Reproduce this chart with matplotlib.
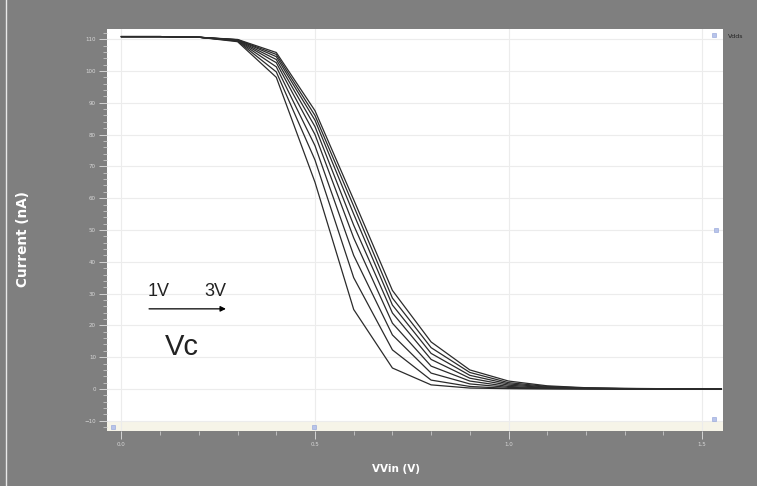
import matplotlib
matplotlib.use('Agg')
import matplotlib.pyplot as plt
import numpy as np
from matplotlib.patches import Rectangle
from matplotlib.lines import Line2D

plt.rcParams.update({'font.family': 'DejaVu Sans'})
plt.rcParams.update({'font.size': 10})

#%% input voltage sweep and output current for each control voltage Vc (1V ... 3V)

vin = [0.0, 0.1, 0.2, 0.3, 0.4, 0.5, 0.6, 0.7, 0.8, 0.9, 1.0, 1.1, 1.2, 1.3, 1.4, 1.5, 1.55]

i_vc1 = [110.8, 110.8, 110.6, 109.2, 98.0, 65.0, 25.0, 6.6, 1.3, 0.3, 0.1, 0.05, 0.0, 0.0, 0.0, 0.0, 0.0]
i_vc2 = [110.8, 110.8, 110.6, 109.4, 99.7, 72.0, 35.0, 12.3, 2.8, 0.8, 0.2, 0.1, 0.05, 0.0, 0.0, 0.0, 0.0]
i_vc3 = [110.8, 110.8, 110.6, 109.5, 101.3, 76.5, 42.0, 17.0, 5.0, 1.6, 0.5, 0.2, 0.1, 0.05, 0.0, 0.0, 0.0]
i_vc4 = [110.8, 110.8, 110.6, 109.6, 102.6, 80.0, 47.5, 20.7, 7.2, 2.5, 0.8, 0.3, 0.15, 0.05, 0.0, 0.0, 0.0]
i_vc5 = [110.8, 110.8, 110.6, 109.7, 103.6, 82.5, 51.5, 23.9, 9.3, 3.4, 1.2, 0.45, 0.2, 0.1, 0.05, 0.0, 0.0]
i_vc6 = [110.8, 110.8, 110.6, 109.8, 104.5, 84.5, 55.0, 26.4, 11.2, 4.3, 1.6, 0.6, 0.25, 0.1, 0.05, 0.0, 0.0]
i_vc7 = [110.8, 110.8, 110.6, 109.8, 105.2, 86.0, 57.5, 28.6, 13.0, 5.2, 2.0, 0.8, 0.3, 0.15, 0.05, 0.0, 0.0]
i_vc8 = [110.8, 110.8, 110.6, 109.9, 105.8, 87.5, 59.5, 31.0, 14.8, 6.0, 2.5, 1.0, 0.4, 0.2, 0.1, 0.05, 0.0]

curves = [i_vc1, i_vc2, i_vc3, i_vc4, i_vc5, i_vc6, i_vc7, i_vc8]

ytick_vals = [-10, 0, 10, 20, 30, 40, 50, 60, 70, 80, 90, 100, 110]
xtick_vals = [0.0, 0.5, 1.0, 1.5]
xtick_labels = ['0.0', '0.5', '1.0', '1.5']

#%% plot

bg = '#7f7f7f'
fig = plt.figure(figsize=(7.57, 4.86), dpi=100, facecolor=bg)
ax = fig.add_axes([0.1413, 0.1132, 0.8137, 0.8272])
ax.set_facecolor('white')

for c in curves:
    ax.plot(vin, c, color='#2b2b2b', lw=0.9)

ax.set_xlim(-0.0375, 1.554)
ax.set_ylim(-13.2, 113.2)

ax.set_xticks(xtick_vals)
ax.set_xticklabels(xtick_labels)
ax.set_xticks(np.arange(0, 1.55, 0.1), minor=True)
ax.set_yticks(ytick_vals)
ax.set_yticks(np.arange(-12, 113, 2), minor=True)

ax.grid(True, which='major', color='#ececec', lw=0.8)
ax.set_axisbelow(True)
for s in ax.spines.values():
    s.set_visible(False)

ax.tick_params(axis='both', which='major', direction='out', length=6, width=0.7,
               color='#d4d4d4', labelsize=4, labelcolor='#d8d8d8', pad=2)
ax.tick_params(axis='both', which='minor', direction='out', length=3, width=0.6,
               color='#c8c8c8')

# scroll strip along the bottom edge of the plot window
ax.add_patch(Rectangle((0, 0), 1, 0.026, transform=ax.transAxes,
                       facecolor='#f6f4e8', edgecolor='none', zorder=0.5))

# little blue scroll buttons of the viewer
for (bx, by) in [(0.009, 0.01), (0.336, 0.01), (0.985, 0.03), (0.985, 0.985), (0.988, 0.5)]:
    ax.plot(bx, by, marker='s', ms=3.5, color='#b8c4ea', mec='#8fa0d8', mew=0.4,
            transform=ax.transAxes, clip_on=False, zorder=5)

ax.set_xlabel('VVin (V)', color='white', fontweight='bold', fontsize=7.5)
ax.set_ylabel('Current (nA)', color='white', fontweight='bold', fontsize=9.8)
ax.xaxis.set_label_coords(0.469, -0.082)
ax.yaxis.set_label_coords(-0.125, 0.478)

# Vc sweep annotation
ax.text(0.067, 29.2, '1V', fontsize=13, color='#222222', family='Liberation Sans')
ax.text(0.215, 29.2, '3V', fontsize=13, color='#222222', family='Liberation Sans')
ax.annotate('', xy=(0.277, 25.2), xytext=(0.064, 25.2),
            arrowprops=dict(arrowstyle='-|>', color='black', lw=0.9, mutation_scale=8))
ax.text(0.111, 10.7, 'Vc', fontsize=21, color='#222222', family='Liberation Sans')

fig.text(728 / 757, 1 - 38 / 486, 'Vdds', fontsize=4.5, color='#222222')
fig.add_artist(Line2D([6 / 757, 6 / 757], [0, 1], color='#e8e8e8', lw=1.0))

plt.savefig('out.png', dpi=100, facecolor=bg)
